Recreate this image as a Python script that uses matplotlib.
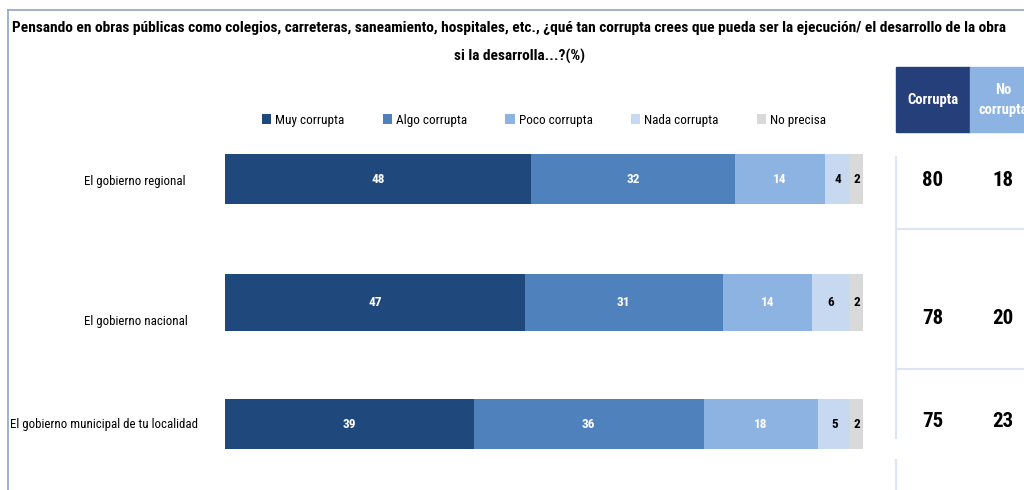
import matplotlib.pyplot as plt
from matplotlib.patches import Rectangle
from matplotlib.lines import Line2D

plt.rcParams['font.family'] = ['Roboto Condensed', 'Liberation Sans Narrow', 'Lato', 'DejaVu Sans']

# datos
filas = ["El gobierno regional", "El gobierno nacional",
         "El gobierno municipal de tu localidad"]
categorias = ["Muy corrupta", "Algo corrupta", "Poco corrupta",
              "Nada corrupta", "No precisa"]
muy = [48, 47, 39]
algo = [32, 31, 36]
poco = [14, 14, 18]
nada = [4, 6, 5]
no_precisa = [2, 2, 2]
corrupta = [80, 78, 75]
no_corrupta = [18, 20, 23]

colores = ["#1F497D", "#4F81BD", "#8DB3E2", "#C6D9F1", "#D9D9D9"]
col_texto = ["white", "white", "white", "black", "black"]

W, H = 1024, 490
fig = plt.figure(figsize=(W / 100, H / 100), dpi=100)

def fx(px):
    return px / W

def fy(py):
    return 1 - py / H

# marco
fig.add_artist(Line2D([fx(8), fx(8)], [fy(10), 0], color="#8EA4C8", lw=1.2))
fig.add_artist(Line2D([fx(8), 1], [fy(10), fy(10)], color="#8EA4C8", lw=1.2))

fig.text(fx(12), fy(28), "Pensando en obras públicas como colegios, carreteras, saneamiento, hospitales, etc., "
         "¿qué tan corrupta crees que pueda ser la ejecución/ el desarrollo de la obra",
         ha="left", va="center", fontsize=11.1, fontweight="bold")
fig.text(fx(520), fy(56), "si la desarrolla...?(%)", ha="center", va="center",
         fontsize=11.1, fontweight="bold")

# barras apiladas
ax = fig.add_axes([fx(225), 0, fx(863) - fx(225), 1])
ax.set_xlim(0, 100)
ax.set_ylim(H, 0)
ax.axis("off")

y_pos = [179, 302, 424]
alturas = [50, 57, 50]
series = [muy, algo, poco, nada, no_precisa]
izq = [0, 0, 0]
handles = []
for serie, nombre, c, tc in zip(series, categorias, colores, col_texto):
    b = ax.barh(y_pos, serie, height=alturas, left=izq, color=c, label=nombre)
    handles.append(b)
    for y, v, l in zip(y_pos, serie, izq):
        ax.text(l + v / 2, y, str(v), ha="center", va="center", color=tc,
                fontsize=9.5, fontweight="bold")
    izq = [a + b_ for a, b_ in zip(izq, serie)]

fig.legend(handles=handles, labels=categorias, loc="center",
           bbox_to_anchor=(fx(544), fy(120)), ncol=5, frameon=False,
           fontsize=9.5, handlelength=0.7, handleheight=0.7, handletextpad=0.3,
           columnspacing=2.9)

# etiquetas de filas
x_etq = [84, 84, 10]
y_etq = [182, 322, 424]
for txt, x, y in zip(filas, x_etq, y_etq):
    fig.text(fx(x), fy(y), txt, ha="left", va="center", fontsize=9.3)

# tabla resumen
fig.add_artist(Rectangle((fx(896), fy(132)), fx(74), fy(67) - fy(132),
                         color="#243F7A", transform=fig.transFigure))
fig.add_artist(Rectangle((fx(970), fy(132)), fx(70), fy(67) - fy(132),
                         color="#8DB3E2", transform=fig.transFigure))
fig.text(fx(933), fy(100), "Corrupta", ha="center", va="center", color="white",
         fontsize=10.5, fontweight="bold")
fig.text(fx(1003), fy(100), "No\ncorrupta", ha="center", va="center", color="white",
         fontsize=10.5, fontweight="bold", linespacing=1.5)

linea = "#DCE6F2"
fig.add_artist(Line2D([fx(896), fx(896)], [fy(157), fy(438)], color=linea, lw=1.5))
fig.add_artist(Line2D([fx(896), fx(896)], [fy(460), 0], color=linea, lw=1.5))
for y in [229, 369]:
    fig.add_artist(Line2D([fx(896), 1], [fy(y), fy(y)], color=linea, lw=1.5))

y_tab = [180, 318, 421]
for y, c, n in zip(y_tab, corrupta, no_corrupta):
    fig.text(fx(933), fy(y), str(c), ha="center", va="center", fontsize=15, fontweight="bold")
    fig.text(fx(1003), fy(y), str(n), ha="center", va="center", fontsize=15, fontweight="bold")

fig.savefig("out.png", dpi=100)
